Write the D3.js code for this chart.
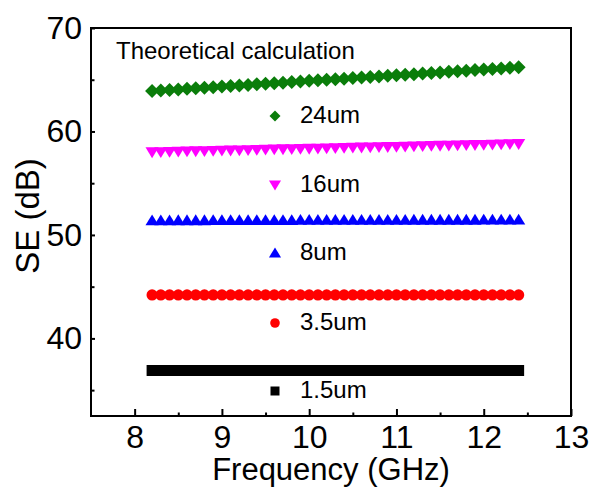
<!DOCTYPE html>
<html>
<head>
<meta charset="utf-8">
<script src="https://cdn.jsdelivr.net/npm/d3@7"></script>
<style>
  body { margin: 0; background: #fff; }
  text { font-family: Arial, "Liberation Sans", sans-serif; fill: #000; }
</style>
</head>
<body>
<script>
// frequency points (GHz), X band
var freq = [8.2, 8.3, 8.4, 8.5, 8.6, 8.7, 8.8, 8.9, 9.0, 9.1,
            9.2, 9.3, 9.4, 9.5, 9.6, 9.7, 9.8, 9.9, 10.0, 10.1,
            10.2, 10.3, 10.4, 10.5, 10.6, 10.7, 10.8, 10.9, 11.0, 11.1,
            11.2, 11.3, 11.4, 11.5, 11.6, 11.7, 11.8, 11.9, 12.0, 12.1,
            12.2, 12.3, 12.4];

// SE values (dB) for each thickness
var se24 = [63.90, 63.95, 64.01, 64.06, 64.12, 64.17, 64.23, 64.28, 64.34, 64.39,
            64.45, 64.50, 64.56, 64.61, 64.67, 64.72, 64.78, 64.83, 64.89, 64.94,
            65.00, 65.05, 65.10, 65.16, 65.21, 65.27, 65.32, 65.38, 65.43, 65.49,
            65.54, 65.60, 65.65, 65.71, 65.76, 65.82, 65.87, 65.93, 65.98, 66.04,
            66.09, 66.15, 66.20];
var se16 = [58.00, 58.02, 58.04, 58.06, 58.08, 58.10, 58.11, 58.13, 58.15, 58.17,
            58.19, 58.21, 58.23, 58.25, 58.27, 58.29, 58.30, 58.32, 58.34, 58.36,
            58.38, 58.40, 58.42, 58.44, 58.46, 58.48, 58.50, 58.51, 58.53, 58.55,
            58.57, 58.59, 58.61, 58.63, 58.65, 58.67, 58.69, 58.70, 58.72, 58.74,
            58.76, 58.78, 58.80];
var se8 = [51.40, 51.40, 51.40, 51.41, 51.41, 51.41, 51.41, 51.42, 51.42, 51.42,
           51.42, 51.42, 51.43, 51.43, 51.43, 51.43, 51.43, 51.44, 51.44, 51.44,
           51.44, 51.44, 51.44, 51.45, 51.45, 51.45, 51.45, 51.45, 51.45, 51.45,
           51.46, 51.46, 51.46, 51.46, 51.46, 51.46, 51.46, 51.46, 51.47, 51.47,
           51.47, 51.47, 51.47];
var se35 = [44.20, 44.20, 44.20, 44.20, 44.20, 44.20, 44.20, 44.20, 44.20, 44.20,
            44.20, 44.20, 44.20, 44.20, 44.20, 44.20, 44.20, 44.20, 44.20, 44.20,
            44.20, 44.20, 44.20, 44.20, 44.20, 44.20, 44.20, 44.20, 44.20, 44.20,
            44.20, 44.20, 44.20, 44.20, 44.20, 44.20, 44.20, 44.20, 44.20, 44.20,
            44.20, 44.20, 44.20];
var se15 = [36.90, 36.90, 36.90, 36.90, 36.90, 36.90, 36.90, 36.90, 36.90, 36.90,
            36.90, 36.90, 36.90, 36.90, 36.90, 36.90, 36.90, 36.90, 36.90, 36.90,
            36.90, 36.90, 36.90, 36.90, 36.90, 36.90, 36.90, 36.90, 36.90, 36.90,
            36.90, 36.90, 36.90, 36.90, 36.90, 36.90, 36.90, 36.90, 36.90, 36.90,
            36.90, 36.90, 36.90];

var seriesNames = ["24um", "16um", "8um", "3.5um", "1.5um"];
var seriesValues = [se24, se16, se8, se35, se15];
var seriesColors = ["#0a7d0a", "#ff00ff", "#0000ff", "#ff0000", "#000000"];
var seriesShapes = ["diamond", "triDown", "triUp", "circle", "square"];

var xTicks = [8, 9, 10, 11, 12, 13];
var xMinor = [8.5, 9.5, 10.5, 11.5, 12.5];
var yTicks = [40, 50, 60, 70];
var yMinor = [35, 45, 55, 65];

var w = 594, h = 488,
    margin = {top: 28, right: 23, bottom: 72, left: 91};

var svg = d3.select("body").append("svg")
    .attr("width", w)
    .attr("height", h);

var x = d3.scaleLinear().domain([7.5, 13]).range([margin.left, w - margin.right]);
var y = d3.scaleLinear().domain([32.5, 70]).range([h - margin.bottom, margin.top]);

// marker path, centred on 0,0
function shapePath(shape, s) {
  if (shape == "diamond") return "M0," + (-s) + "L" + s + ",0L0," + s + "L" + (-s) + ",0Z";
  if (shape == "triUp") return "M0," + (-s) + "L" + (s * 1.1) + "," + (s * 0.8) + "L" + (-s * 1.1) + "," + (s * 0.8) + "Z";
  if (shape == "triDown") return "M0," + s + "L" + (s * 1.1) + "," + (-s * 0.8) + "L" + (-s * 1.1) + "," + (-s * 0.8) + "Z";
  if (shape == "square") return "M" + (-s) + "," + (-s) + "h" + (2 * s) + "v" + (2 * s) + "h" + (-2 * s) + "Z";
  return d3.arc()({innerRadius: 0, outerRadius: s, startAngle: 0, endAngle: 2 * Math.PI});
}
var markerSize = {diamond: 7, triDown: 6, triUp: 6, circle: 5.6, square: 5.5};
var legendSize = {diamond: 5.5, triDown: 5.5, triUp: 5.5, circle: 4.8, square: 4.5};

// series markers
seriesNames.forEach(function(name, k) {
  svg.append("g")
      .selectAll("path")
      .data(seriesValues[k])
      .enter()
      .append("path")
      .attr("transform", function(d, i) { return "translate(" + x(freq[i]) + "," + y(d) + ")"; })
      .attr("d", shapePath(seriesShapes[k], markerSize[seriesShapes[k]]))
      .attr("fill", seriesColors[k]);
});

// axes (ticks point inward)
svg.append("g")
    .attr("transform", "translate(0," + (h - margin.bottom) + ")")
    .call(d3.axisBottom(x).tickValues(xMinor).tickFormat("").tickSizeInner(-3.5).tickSizeOuter(0))
    .call(function(g) { g.select(".domain").remove(); });
svg.append("g")
    .attr("transform", "translate(" + margin.left + ",0)")
    .call(d3.axisLeft(y).tickValues(yMinor).tickFormat("").tickSizeInner(-3.5).tickSizeOuter(0))
    .call(function(g) { g.select(".domain").remove(); });

var xAxis = svg.append("g")
    .attr("transform", "translate(0," + (h - margin.bottom) + ")")
    .call(d3.axisBottom(x).tickValues(xTicks).tickFormat(d3.format("d")).tickSizeInner(-7).tickSizeOuter(0).tickPadding(9));
var yAxis = svg.append("g")
    .attr("transform", "translate(" + margin.left + ",0)")
    .call(d3.axisLeft(y).tickValues(yTicks).tickFormat(d3.format("d")).tickSizeInner(-4).tickSizeOuter(0).tickPadding(9));

[xAxis, yAxis].forEach(function(g) {
  g.select(".domain").remove();
  g.selectAll(".tick text").style("font-size", "32px").attr("fill", "#000");
});
svg.selectAll(".tick line").attr("stroke", "#000").attr("stroke-width", 2);

// frame
svg.append("rect")
    .attr("x", margin.left)
    .attr("y", margin.top)
    .attr("width", w - margin.left - margin.right)
    .attr("height", h - margin.top - margin.bottom)
    .attr("fill", "none")
    .attr("stroke", "#000")
    .attr("stroke-width", 2);

// axis titles
svg.append("text")
    .attr("x", 331)
    .attr("y", 480)
    .attr("text-anchor", "middle")
    .style("font-size", "31px")
    .text("Frequency (GHz)");
svg.append("text")
    .attr("transform", "translate(39," + 216 + ") rotate(-90)")
    .attr("text-anchor", "middle")
    .style("font-size", "33px")
    .text("SE (dB)");

// note
svg.append("text")
    .attr("x", 116)
    .attr("y", 59)
    .style("font-size", "24px")
    .text("Theoretical calculation");

// per-series labels under each line
var legendY = [123, 192, 260, 330, 398];
seriesNames.forEach(function(name, k) {
  svg.append("path")
      .attr("transform", "translate(275," + (legendY[k] - 7) + ")")
      .attr("d", shapePath(seriesShapes[k], legendSize[seriesShapes[k]]))
      .attr("fill", seriesColors[k]);
  svg.append("text")
      .attr("x", 300)
      .attr("y", legendY[k])
      .style("font-size", "24px")
      .text(name);
});
</script>
</body>
</html>
